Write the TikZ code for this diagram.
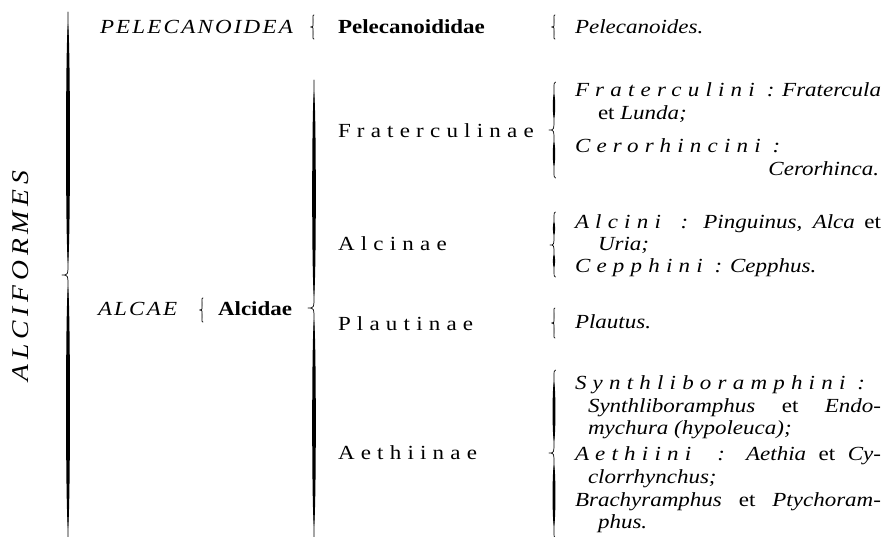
\documentclass[tikz,border=0pt]{standalone}
\usepackage{fontspec}
\setmainfont{Liberation Serif}[FakeStretch=1.15]
\newcommand\lsA[1]{{\addfontfeatures{LetterSpace=31}#1}}
\newcommand\lsB[1]{{\addfontfeatures{LetterSpace=11}#1}}
\newcommand\lsC[1]{{\addfontfeatures{LetterSpace=20}#1}}
% \vbrace{x}{ytop}{ytip}{ybot}{w}{tip depth}{end curl}
\newcommand\vbrace[7]{%
  \pgfmathsetmacro\brcRa{min(12,0.3*(#3-#2))}%
  \pgfmathsetmacro\brcRb{min(12,0.3*(#4-#3))}%
  \pgfmathsetmacro\brcTa{#2+\brcRa}%
  \pgfmathsetmacro\brcTb{#3-\brcRa}%
  \pgfmathsetmacro\brcTc{#3+\brcRb}%
  \pgfmathsetmacro\brcTd{#4-\brcRb}%
  \pgfmathsetmacro\brcA{\brcTa+0.06*(\brcTb-\brcTa)}%
  \pgfmathsetmacro\brcB{\brcTb-0.06*(\brcTb-\brcTa)}%
  \pgfmathsetmacro\brcC{\brcTc+0.06*(\brcTd-\brcTc)}%
  \pgfmathsetmacro\brcD{\brcTd-0.06*(\brcTd-\brcTc)}%
  \pgfmathsetmacro\brcXl{#1-#5}%
  \pgfmathsetmacro\brcXr{#1+#5}%
  \pgfmathsetmacro\brcXt{#1-#6}%
  \pgfmathsetmacro\brcXe{#1+#7}%
  \draw[bracestyle] (\brcXe,#2) .. controls (#1,#2) .. (#1,\brcTa) -- (#1,\brcTb)
    .. controls (#1,#3) .. (\brcXt,#3) .. controls (#1,#3) .. (#1,\brcTc)
    -- (#1,\brcTd) .. controls (#1,#4) .. (\brcXe,#4);
  \fill[black] (#1,\brcTa) .. controls (\brcXl,\brcA) and (\brcXl,\brcB) .. (#1,\brcTb)
    .. controls (\brcXr,\brcB) and (\brcXr,\brcA) .. cycle;
  \fill[black] (#1,\brcTc) .. controls (\brcXl,\brcC) and (\brcXl,\brcD) .. (#1,\brcTd)
    .. controls (\brcXr,\brcD) and (\brcXr,\brcC) .. cycle;
}
\tikzset{
  bracestyle/.style={black, line width=0.7pt, line cap=round, line join=round},
  txt/.style={inner sep=0pt, outer sep=0pt, anchor=base west, font=\fontsize{20}{22}\selectfont},
  txtr/.style={txt, anchor=base east},
}
\begin{document}
\begin{tikzpicture}[x=1pt,y=-1pt]
\clip (0,0) rectangle (884,536);
\fill[white] (0,0) rectangle (884,536);

% left column
\node[inner sep=0pt, rotate=90, font=\fontsize{24}{24}\selectfont\itshape] (alciformes) at (21,276) {\lsC{ALCIFORMES}};
\node[txt, font=\fontsize{20}{22}\selectfont\itshape] (pelecanoidea) at (100,33) {\lsB{PELECANOIDEA}};
\node[txt, font=\fontsize{20}{22}\selectfont\itshape] (alcae) at (98,315) {\lsB{ALCAE}};
\node[txt, font=\fontsize{20}{22}\selectfont\bfseries] (alcidae) at (218,315) {Alcidae};

% middle column
\node[txt, font=\fontsize{20}{22}\selectfont\bfseries] (pelecanoididae) at (338,33) {Pelecanoididae};
\node[txt] (fraterculinae) at (338,137) {\lsA{Fraterculinae}};
\node[txt] (alcinae) at (338,250) {\lsA{Alcinae}};
\node[txt] (plautinae) at (338,330) {\lsA{Plautinae}};
\node[txt] (aethiinae) at (338,459) {\lsA{Aethiinae}};

% right column
\node[txt] (pelecanoides) at (575,33) {\itshape Pelecanoides.};
\node[txt] (fr1) at (575,96) {\makebox[306pt][s]{\itshape\lsA{Fraterculini :} Fratercula}};
\node[txt] (fr2) at (598,119) {\itshape{\upshape et} Lunda;};
\node[txt] (ce1) at (575,152) {\itshape\lsA{Cerorhincini :}};
\node[txtr] (ce2) at (879,175) {\itshape Cerorhinca.};
\node[txt] (al1) at (575,228) {\makebox[306pt][s]{\itshape\lsA{Alcini :} Pinguinus, Alca {\upshape et}}};
\node[txt] (al2) at (598,250) {\itshape Uria;};
\node[txt] (cp1) at (575,272) {\itshape\lsA{Cepphini :} Cepphus.};
\node[txt] (pl) at (575,328) {\itshape Plautus.};
\node[txt] (sy1) at (575,389) {\itshape\lsA{Synthliboramphini :}};
\node[txt] (sy2) at (588,412) {\makebox[293pt][s]{\itshape Synthliboramphus {\upshape et} Endo-}};
\node[txt] (sy3) at (588,434) {\itshape mychura (hypoleuca);};
\node[txt] (ae1) at (575,460) {\makebox[306pt][s]{\itshape\lsA{Aethiini :} Aethia {\upshape et} Cy-}};
\node[txt] (ae2) at (588,483) {\itshape clorrhynchus;};
\node[txt] (br1) at (575,506) {\makebox[306pt][s]{\itshape Brachyramphus {\upshape et} Ptychoram-}};
\node[txt] (br2) at (598,528) {\itshape phus.};

% braces
\vbrace{68}{12}{275}{540}{2.6}{6}{0}
\vbrace{314}{80}{308}{538}{2.4}{6}{0}
\vbrace{313}{15}{27}{39}{0}{2.5}{1}
\vbrace{202}{298}{310}{322}{0}{2.5}{1}
\vbrace{554}{15}{27}{39}{0}{2.5}{1}
\vbrace{554}{82}{130}{178}{1.6}{5}{1.5}
\vbrace{554}{212}{245}{277}{1.5}{4}{1.5}
\vbrace{554}{308}{323}{338}{0}{2.5}{1}
\vbrace{554}{370}{453}{538}{1.9}{5}{1.5}
\end{tikzpicture}
\end{document}
